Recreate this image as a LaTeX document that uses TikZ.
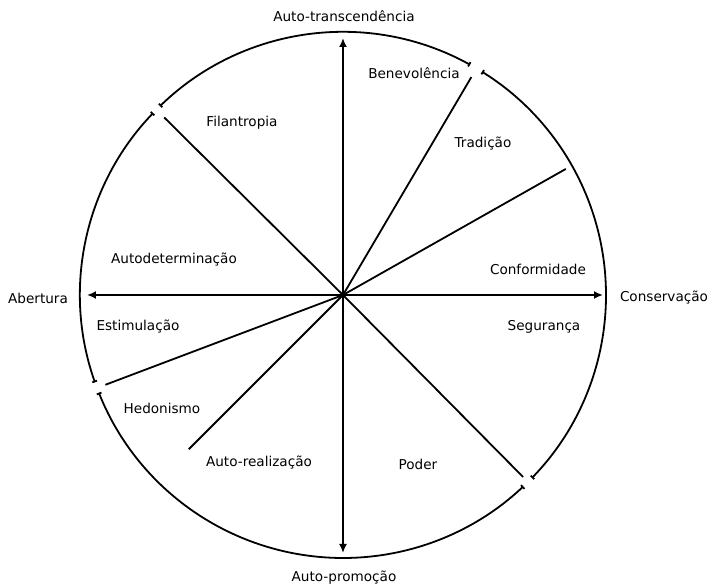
\documentclass[tikz,border=0pt]{standalone}
\usepackage{fontspec}
\setmainfont{DejaVu Sans}
\usetikzlibrary{arrows.meta}

\begin{document}
\begin{tikzpicture}[x=1pt, y=1pt,
  every node/.style={font=\fontsize{13.6}{16}\selectfont, inner sep=1pt},
  axisarr/.style={-{Latex[length=9pt,width=8pt]}, line width=1.8pt},
  divline/.style={line width=1.8pt},
  rim/.style={{Bar[width=5pt]}-{Bar[width=5pt]}, line width=1.8pt},
]
\useasboundingbox (-343,-293) rectangle (380,295);

% centre and end points
\coordinate (O) at (0,0);
\coordinate (top) at (0,257);
\coordinate (bot) at (0,-258);
\coordinate (lft) at (-256,0);
\coordinate (rgt) at (260,0);
\coordinate (d1) at (59.5:253);
\coordinate (d2) at (29.5:256);
\coordinate (d3) at (135.2:252);
\coordinate (d4) at (200.7:254);
\coordinate (d5) at (225:218);
\coordinate (d6) at (-45.3:256);

% outer ring, broken at four places
\draw[rim] (61.1:263) arc[start angle=61.1, end angle=134.1, radius=263];
\draw[rim] (136.2:263) arc[start angle=136.2, end angle=199.4, radius=263];
\draw[rim] (201.8:263) arc[start angle=201.8, end angle=313.3, radius=263];
\draw[rim] (315.9:263) arc[start angle=315.9, end angle=418.1, radius=263];

% axes
\draw[axisarr] (O) -- (top);
\draw[axisarr] (O) -- (bot);
\draw[axisarr] (O) -- (lft);
\draw[axisarr] (O) -- (rgt);

% dividing lines
\draw[divline] (O) -- (d1);
\draw[divline] (O) -- (d2);
\draw[divline] (O) -- (d3);
\draw[divline] (O) -- (d4);
\draw[divline] (O) -- (d5);
\draw[divline] (O) -- (d6);

% axis labels
\node (trans) at (1,279) {Auto-transcendência};
\node (promo) at (1,-283) {Auto-promoção};
\node (abert) at (-305,-3) {Abertura};
\node (conse) at (321,-3) {Conservação};

% value labels
\node (bene) at (71,222) {Benevolência};
\node (filan) at (-101,172) {Filantropia};
\node (trad) at (140,151) {Tradição};
\node (autod) at (-169,35) {Autodeterminação};
\node (confo) at (195,26) {Conformidade};
\node (estim) at (-205,-32) {Estimulação};
\node (segur) at (201,-32) {Segurança};
\node (hedon) at (-181,-113) {Hedonismo};
\node (autor) at (-84,-168) {Auto-realização};
\node (poder) at (75,-169) {Poder};
\end{tikzpicture}
\end{document}
